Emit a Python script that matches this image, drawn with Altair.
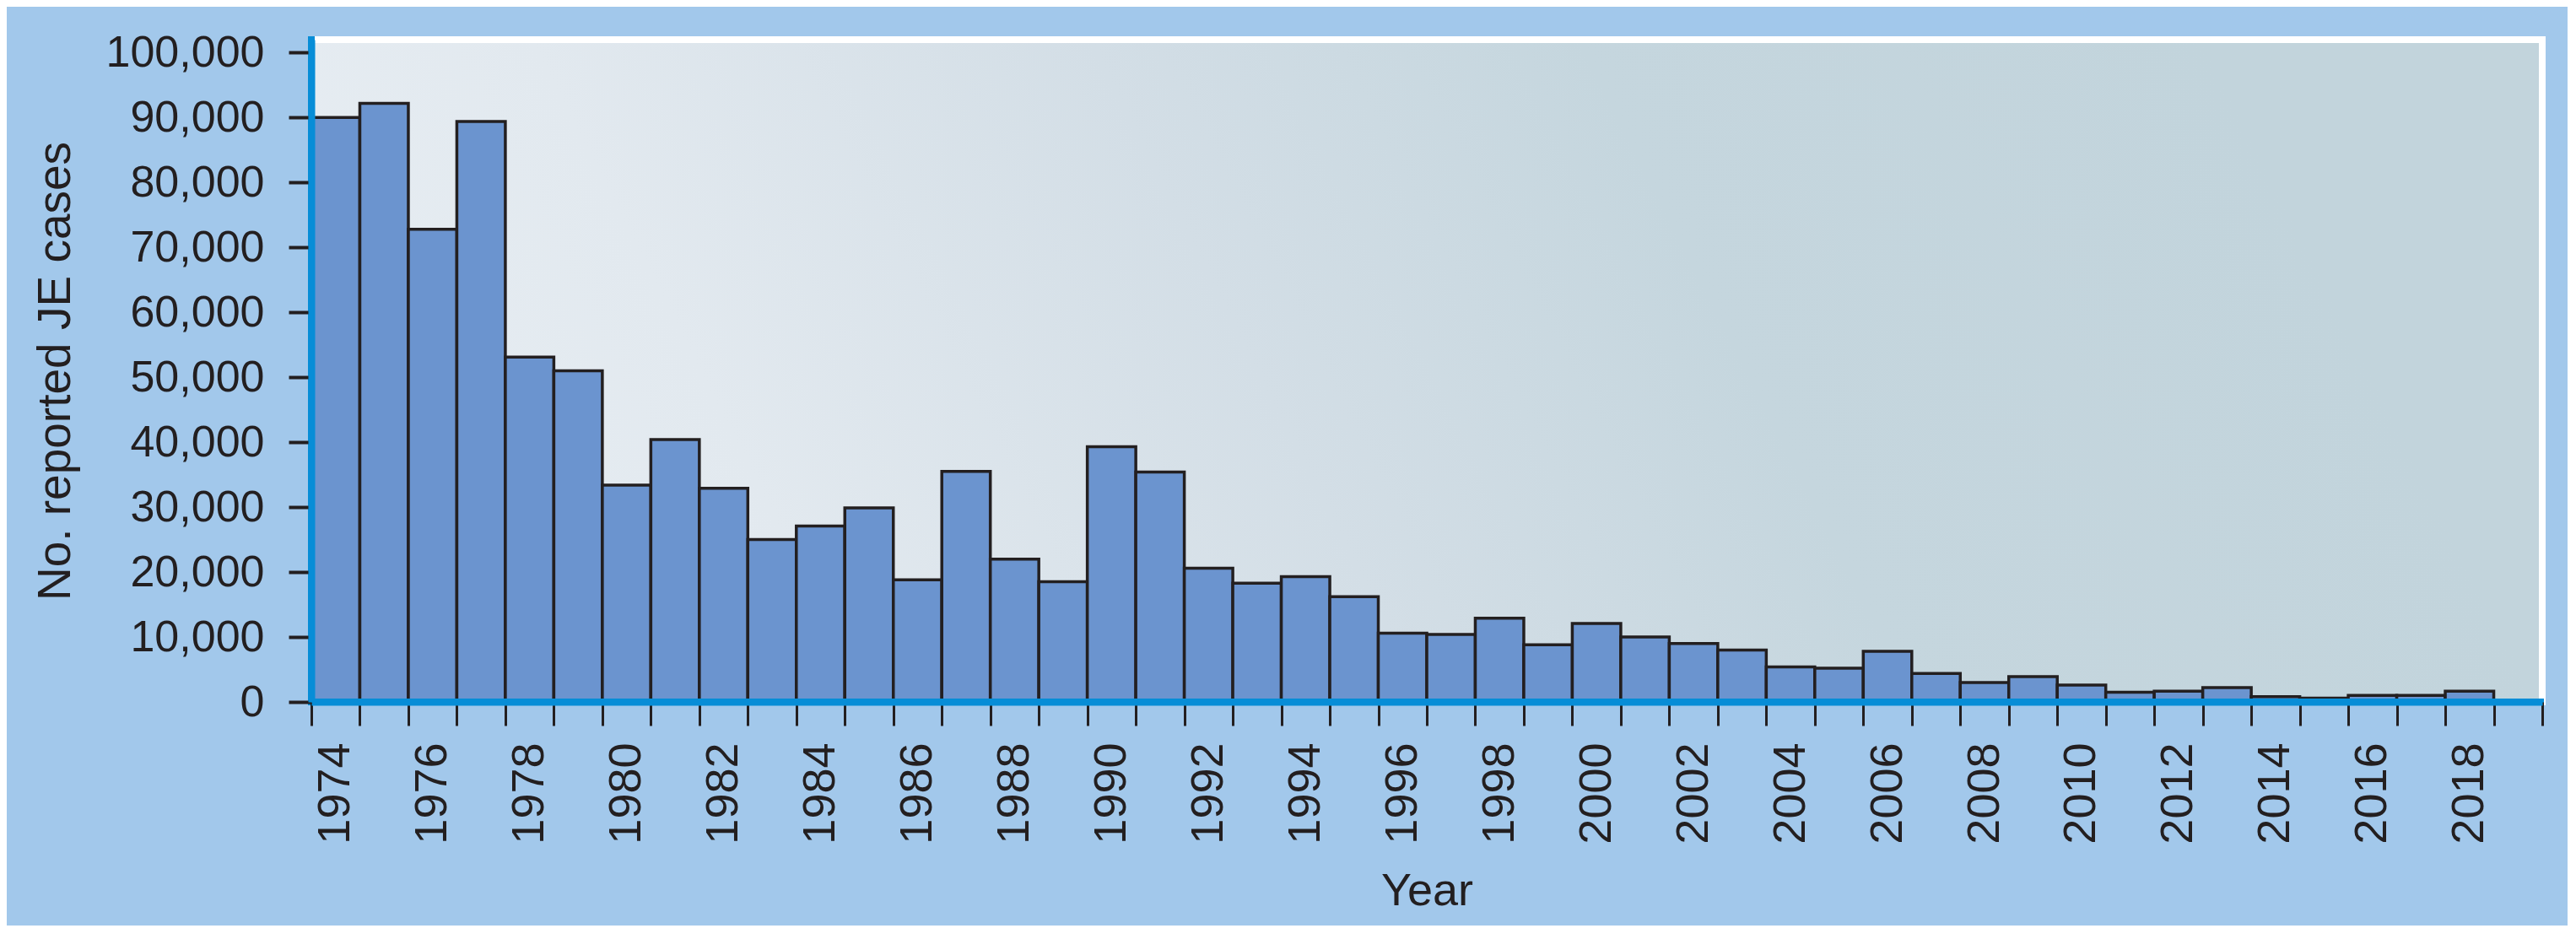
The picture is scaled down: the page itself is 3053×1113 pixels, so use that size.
import altair as alt
import pandas as pd

# ---- data ----
years = list(range(1974, 2019))
cases = [90000, 92200, 72800, 89400, 53100, 51000, 33400, 40400, 32900, 25000,
         27100, 29900, 18800, 35500, 22000, 18500, 39300, 35400, 20600, 18300,
         19300, 16200, 10600, 10400, 12900, 8800, 12100, 10000, 9000, 8000,
         5400, 5200, 7800, 4400, 3000, 3900, 2600, 1500, 1650, 2200,
         800, 580, 1000, 1000, 1670]
tick_years = list(range(1974, 2021))
y_ticks = list(range(0, 100001, 10000))

df = pd.DataFrame({"year": years,
                   "year_end": [y + 1 for y in years],
                   "cases": cases})

W, H = 2644, 785
FONT = "Liberation Sans"
INK = "#231f20"
AXIS_BLUE = "#078dd7"
BAR = "#6b94cf"
OUTER = "#a2c8eb"

gradient = {
    "gradient": "linear",
    "x1": 0, "y1": 1, "x2": 0.978, "y2": 0.853,
    "stops": [
        {"offset": 0.0, "color": "#e9eff4"},
        {"offset": 0.25, "color": "#e2e9ef"},
        {"offset": 0.5, "color": "#d3dee6"},
        {"offset": 0.72, "color": "#c5d6de"},
        {"offset": 1.0, "color": "#c2d4dc"},
    ],
}

one = alt.Data(values=[{}])

bg = alt.Chart(one).mark_rect(fill=gradient).encode(
    x=alt.value(0), x2=alt.value(W - 4), y=alt.value(4), y2=alt.value(H)
)

x_axis = alt.Axis(
    values=tick_years, format="d",
    labelExpr="(datum.value % 2 == 0 && datum.value <= 2018) ? datum.label : ''",
    labelAngle=270, labelOffset=28.74, labelOverlap=False, labelFlush=False,
    labelLimit=0,
    labelFontSize=54, labelFont=FONT, labelColor=INK, labelPadding=20,
    tickSize=28, tickWidth=3, tickColor=INK,
    domainColor=AXIS_BLUE, domainWidth=8,
    title="Year", titleFontSize=54, titleFont=FONT, titleColor=INK,
    titleFontWeight="normal", titleX=W / 2, titleY=240,
    titleBaseline="alphabetic", titleAlign="center",
    grid=False, zindex=1,
)

y_axis = alt.Axis(
    values=y_ticks, format=",d", labelFlush=False, labelOverlap=False,
    labelLimit=0,
    labelFontSize=52, labelFont=FONT, labelColor=INK, labelPadding=29,
    tickSize=27, tickWidth=4, tickColor=INK,
    domainColor=AXIS_BLUE, domainWidth=8,
    title="No. reported JE cases", titleFontSize=55, titleFont=FONT,
    titleColor=INK, titleFontWeight="normal", titleAngle=270, titleLimit=0,
    titleX=-287, titleY=H / 2, titleBaseline="alphabetic", titleAlign="center",
    grid=False, zindex=1,
)

bars = alt.Chart(df).mark_rect(fill=BAR, stroke=INK, strokeWidth=3.5).encode(
    x=alt.X("year:Q", scale=alt.Scale(domain=[1974, 2020], nice=False, zero=False),
            axis=x_axis),
    x2="year_end:Q",
    y=alt.Y("cases:Q", scale=alt.Scale(domain=[0, 102000], nice=False), axis=y_axis),
    y2=alt.datum(0),
)

# blue axis lines drawn above the bars, as in the reference
x_line = alt.Chart(one).mark_rule(color=AXIS_BLUE, strokeWidth=8).encode(
    x=alt.value(-4), x2=alt.value(W + 2), y=alt.value(H)
)
y_line = alt.Chart(one).mark_rule(color=AXIS_BLUE, strokeWidth=8).encode(
    x=alt.value(0), y=alt.value(-4), y2=alt.value(H + 4)
)

chart = alt.layer(bg, bars, x_line, y_line).properties(
    width=W, height=H, background=OUTER,
    padding={"left": 361, "top": 39, "right": 30, "bottom": 265},
    autosize=alt.AutoSizeParams(type="none"),
).configure_view(stroke="white", strokeWidth=8)

chart.save("out.html", embed_options={"renderer": "svg", "actions": False})
